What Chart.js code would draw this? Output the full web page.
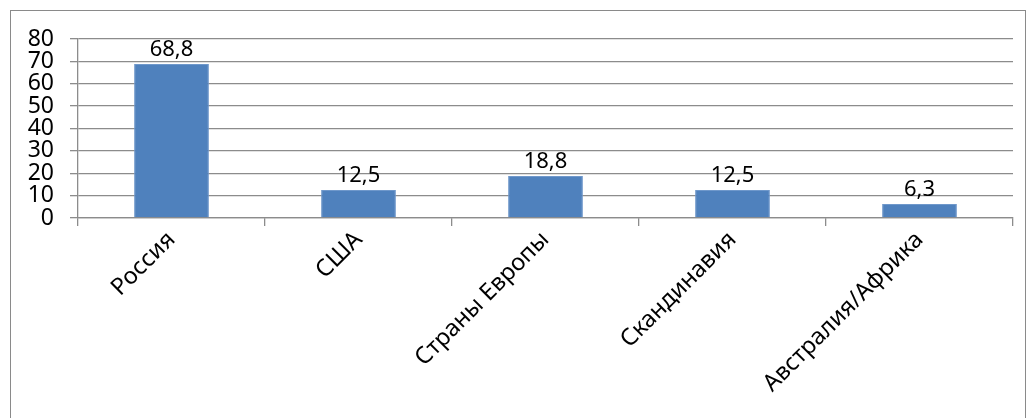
<!DOCTYPE html>
<html lang="ru">
<head>
  <meta charset="UTF-8">
  <title>Распределение по регионам</title>
  <script src="https://cdn.jsdelivr.net/npm/chart.js"></script>
  <style>
    html, body { margin: 0; padding: 0; background: #fff; }
    body { width: 1029px; height: 418px; overflow: hidden; position: relative; }
    .frame {
      position: absolute; left: 10px; top: 10px;
      width: 1016px; height: 420px;
      border: 1.5px solid #8a8a8a;
      box-sizing: border-box;
    }
    canvas { position: absolute; left: 0; top: 0; }
  </style>
</head>
<body>
  <div class="frame"></div>
  <canvas id="chart" width="1029" height="418"></canvas>

  <script>
    const categories = ['Россия', 'США', 'Страны Европы', 'Скандинавия', 'Австралия/Африка'];
    const values = [68.8, 12.5, 18.8, 12.5, 6.3];
    const valueLabels = ['68,8', '12,5', '18,8', '12,5', '6,3'];

    const font = '"Noto Sans", sans-serif';

    // подписи значений над столбцами
    const barLabels = {
      id: 'barLabels',
      afterDatasetsDraw(chart) {
        const ctx = chart.ctx;
        const meta = chart.getDatasetMeta(0);
        ctx.save();
        ctx.font = '22px ' + font;
        ctx.fillStyle = '#000';
        ctx.textAlign = 'center';
        ctx.textBaseline = 'bottom';
        meta.data.forEach((bar, i) => {
          ctx.fillText(valueLabels[i], bar.x, bar.y - 3);
        });
        ctx.restore();
      }
    };

    new Chart(document.getElementById('chart'), {
      type: 'bar',
      data: {
        labels: categories,
        datasets: [{
          data: values,
          backgroundColor: '#4F81BD',
          borderColor: '#6F98CB',
          borderWidth: 1,
          categoryPercentage: 1,
          barPercentage: 0.4
        }]
      },
      options: {
        responsive: false,
        animation: false,
        devicePixelRatio: 1,
        layout: { padding: { left: 10, right: 16, top: 39, bottom: 0 } },
        plugins: { legend: { display: false }, tooltip: { enabled: false } },
        scales: {
          y: {
            min: 0, max: 80,
            ticks: { stepSize: 10, autoSkip: false, color: '#000', font: { family: font, size: 23 }, padding: 16 },
            grid: { color: '#8c8c8c', lineWidth: 1.3, tickLength: 8 },
            border: { color: '#8c8c8c', width: 1.3 },
            afterFit(scale) { scale.width = 68; }
          },
          x: {
            ticks: {
              color: '#000', font: { family: font, size: 23.5 },
              minRotation: 45, maxRotation: 45, autoSkip: false, padding: 0
            },
            grid: { offset: true, drawOnChartArea: false, color: '#8c8c8c', lineWidth: 1.3, tickLength: 8 },
            border: { color: '#8c8c8c', width: 1.3 },
            afterFit(scale) { scale.height = 200; }
          }
        }
      },
      plugins: [barLabels]
    });
  </script>
</body>
</html>
